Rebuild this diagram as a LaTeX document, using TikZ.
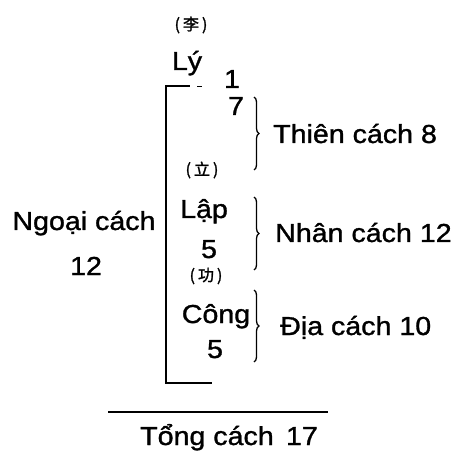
\documentclass[tikz,border=0pt]{standalone}
\usepackage{fontspec}
\setmainfont{Liberation Sans}
\newfontfamily\txtfont[FakeStretch=1.1, FakeBold=1.2]{Liberation Sans}
\newfontfamily\cjk[FakeBold=1.5]{Noto Sans CJK SC}
\usetikzlibrary{decorations.pathreplacing}
\tikzset{
  lbl/.style={inner sep=0pt, font=\txtfont\fontsize{26}{30}\selectfont},
  han/.style={inner sep=0pt, font=\cjk\fontsize{16}{18}\selectfont},
  thin/.style={line width=1.2pt},
  thick2/.style={line width=2.5pt},
  bracebox/.style={line width=1.3pt, decorate, decoration={brace, amplitude=5pt}},
}
\begin{document}
\begin{tikzpicture}[x=1pt, y=-1pt]
\useasboundingbox (0,0) rectangle (460,454);
% Chinese labels
\node[han] (li) at (191,25) {(\hspace{3pt}李\hspace{3pt})};
\node[han] (lap0) at (202,170) {(\hspace{3pt}立\hspace{3pt})};
\node[han] (cong0) at (206,276) {(\hspace{3pt}功\hspace{3pt})};
% main column
\node[lbl, anchor=base] (ly) at (187,70) {Lý};
\node[lbl, anchor=base] (one) at (232,88) {1};
\node[lbl, anchor=base] (seven) at (236,115) {7};
\node[lbl, anchor=base] (lap) at (204,218) {Lập};
\node[lbl, anchor=base] (lapn) at (209,258) {5};
\node[lbl, anchor=base] (cong) at (216,323) {Công};
\node[lbl, anchor=base] (congn) at (215,358) {5};
% left
\node[lbl, anchor=base] (ngoai) at (84,230) {Ngoại cách};
\node[lbl, anchor=base] (ngoain) at (86,275) {12};
% right
\node[lbl, anchor=base west] (thien) at (273,143) {Thiên cách 8};
\node[lbl, anchor=base west] (nhan) at (275,242) {Nhân cách 12};
\node[lbl, anchor=base west] (dia) at (280,335) {Địa cách 10};
% bottom
\node[lbl, anchor=base west] (tong) at (140,445) {Tổng cách \,17};
% bracket
\coordinate (tl) at (165,86);
\coordinate (tr) at (190,86);
\coordinate (d1) at (197,86);
\coordinate (d2) at (202,86);
\coordinate (vl1) at (166,86);
\coordinate (vl2) at (166,198);
\coordinate (bl) at (166,383);
\coordinate (br) at (212,383);
\draw[line width=1.6pt] (tl) -- (tr);
\draw[line width=0.8pt] (d1) -- (d2);
\draw[thin] (vl1) -- (vl2);
\draw[thick2] (vl2) -- (bl) -- (br);
% braces
\coordinate (b1a) at (254,97);
\coordinate (b1b) at (254,170);
\coordinate (b2a) at (254,197);
\coordinate (b2b) at (254,270);
\coordinate (b3a) at (254,290);
\coordinate (b3b) at (254,362);
\draw[bracebox] (b1a) -- (b1b);
\draw[bracebox] (b2a) -- (b2b);
\draw[bracebox] (b3a) -- (b3b);
% sum line
\coordinate (s1) at (108,412);
\coordinate (s2) at (328,412);
\draw[line width=1.5pt] (s1) -- (s2);
\end{tikzpicture}
\end{document}
